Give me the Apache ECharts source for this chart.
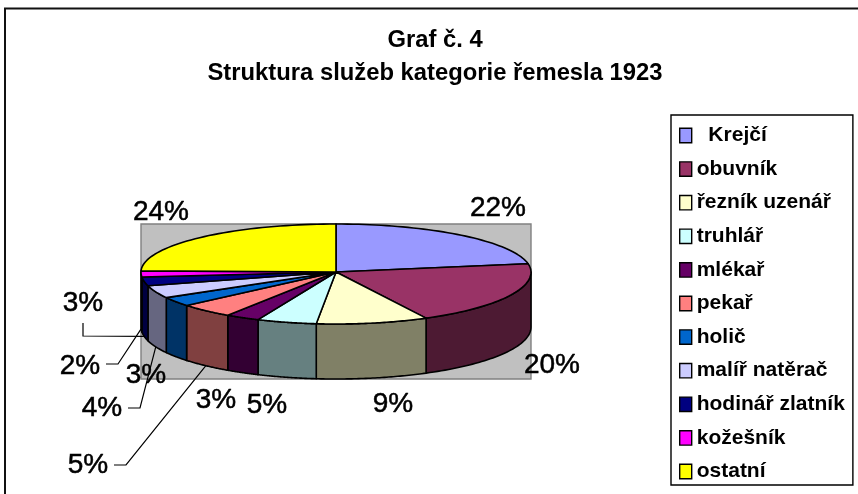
<!DOCTYPE html>
<html><head><meta charset="utf-8">
<style>html,body{margin:0;padding:0;background:#fff}#c{width:858px;height:494px}</style>
<script src="https://cdn.jsdelivr.net/npm/echarts@6/dist/echarts.min.js"></script>
</head><body><div id="c"></div>
<script>
// Data (percent shares)
var categories = ['  Krejčí','obuvník','řezník uzenář','truhlář','mlékař','pekař','holič','malíř natěrač','hodinář zlatník','kožešník','ostatní'];
var shares = [22.1,20,9.2,4.9,2.8,4.5,2.9,3.9,2.7,1.9,24.49];
var topColors = ['#9999FF','#993366','#FFFFCC','#CCFFFF','#660066','#FF8080','#0066CC','#CCCCFF','#000080','#FF00FF','#FFFF00'];
var wallColors = ['#4d4d80','#4d1a33','#808066','#668080','#330033','#804040','#003366','#666680','#000040','#800080','#808000'];
var titleLines = ['Graf č. 4','Struktura služeb kategorie řemesla 1923'];

// Layout of the pie annotations (page pixels)
var labelCenters = [[498,208],[552,365],[393,404],[267,405],[216,400],[88,465],[146,375],[102,408],[83,303],[80,366],[161,212]];
var leaderElbows = [null,null,null,null,null,[[114,465],[126,465]],null,[[128,408],[140,408]],[[83,323],[83,336]],[[106,364],[118,364]],null];
var RY_BACK = 48, RY_FRONT = 52, DEPTH = 55;

var total = shares.reduce(function(a,b){return a+b;},0);
var starts = [], acc = 0;
shares.forEach(function(v){ starts.push(acc/total*2*Math.PI); acc += v; });

// unit-pie projection: x in [-1,1]; y in units of the back radius
function proj(a, drop){
  var c = Math.cos(a);
  return [Math.sin(a), (c>=0 ? c : c*RY_FRONT/RY_BACK) - (drop?DEPTH/RY_BACK:0)];
}
function renderSlice(i){
  return function(params, api){
    var a0 = starts[i], a1 = a0 + shares[i]/total*2*Math.PI, n = 48, k;
    var top = [api.coord([0,0])];
    for(k=0;k<=n;k++) top.push(api.coord(proj(a0+(a1-a0)*k/n,false)));
    var children = [];
    var w0 = Math.max(a0,Math.PI/2), w1 = Math.min(a1,Math.PI*3/2);
    if(w1>w0){
      var up=[],down=[];
      for(k=0;k<=n;k++){
        var a=w0+(w1-w0)*k/n;
        up.push(api.coord(proj(a,false)));
        down.unshift(api.coord(proj(a,true)));
      }
      children.push({type:'polygon',shape:{points:up.concat(down)},
        style:{fill:wallColors[i],stroke:'#000',lineWidth:1.6,lineJoin:'round'}});
    }
    children.push({type:'polygon',shape:{points:top},
      style:{fill:topColors[i],stroke:'#000',lineWidth:1.6,lineJoin:'round'}});
    if(leaderElbows[i]){
      var mid=(a0+a1)/2, end=api.coord(proj(mid,true));
      children.push({type:'polyline',shape:{points:leaderElbows[i].concat([end])},
        style:{fill:'none',stroke:'#000',lineWidth:1.2},z2:20});
    }
    children.push({type:'text',x:labelCenters[i][0],y:labelCenters[i][1],z2:30,
      style:{text:Math.round(shares[i])+'%',font:'28px "Liberation Sans"',fill:'#000',stroke:'#000',lineWidth:0.5,align:'center',verticalAlign:'middle'}});
    return {type:'group',children:children};
  };
}

var chart = echarts.init(document.getElementById('c'),null,{renderer:'canvas'});
chart.setOption({
  animation:false,
  backgroundColor:'#fff',
  graphic:[{type:'polyline',shape:{points:[[5,494],[5,8.5],[858,8.5]]},style:{fill:'none',stroke:'#111',lineWidth:2},silent:true,z:-1}],
  title:{text:titleLines.join('\n'),left:430,top:19,textAlign:'center',
    textStyle:{fontFamily:'"Liberation Sans"',fontWeight:'bold',fontSize:23.8,lineHeight:33,color:'#000'}},
  legend:{orient:'vertical',left:671,top:115,padding:[10,8,3,8],itemGap:12.6,itemWidth:12,itemHeight:18,
    icon:'rect',borderColor:'#000',borderWidth:1.4,backgroundColor:'#fff',selectedMode:false,
    textStyle:{fontFamily:'"Liberation Sans"',fontWeight:'bold',fontSize:21,lineHeight:18,color:'#000'},
    data:categories.map(function(c){return {name:c,icon:'path://M1,4H11V16H1Z',itemStyle:{borderColor:'#000',borderWidth:1.4}};})},
  grid:{left:141,top:224,width:390,height:155,show:true,backgroundColor:'#c0c0c0',borderColor:'#808080',borderWidth:1.4},
  xAxis:{type:'value',min:-1,max:1,show:false},
  yAxis:{type:'value',min:-155/RY_BACK+1,max:1,show:false},
  series:categories.map(function(c,i){
    return {type:'custom',name:c,coordinateSystem:'cartesian2d',renderItem:renderSlice(i),
      data:[[0,0,shares[i]]],encode:{x:0,y:1},silent:true,clip:false,
      itemStyle:{color:topColors[i],borderColor:'#000'}};
  })
});
</script></body></html>
